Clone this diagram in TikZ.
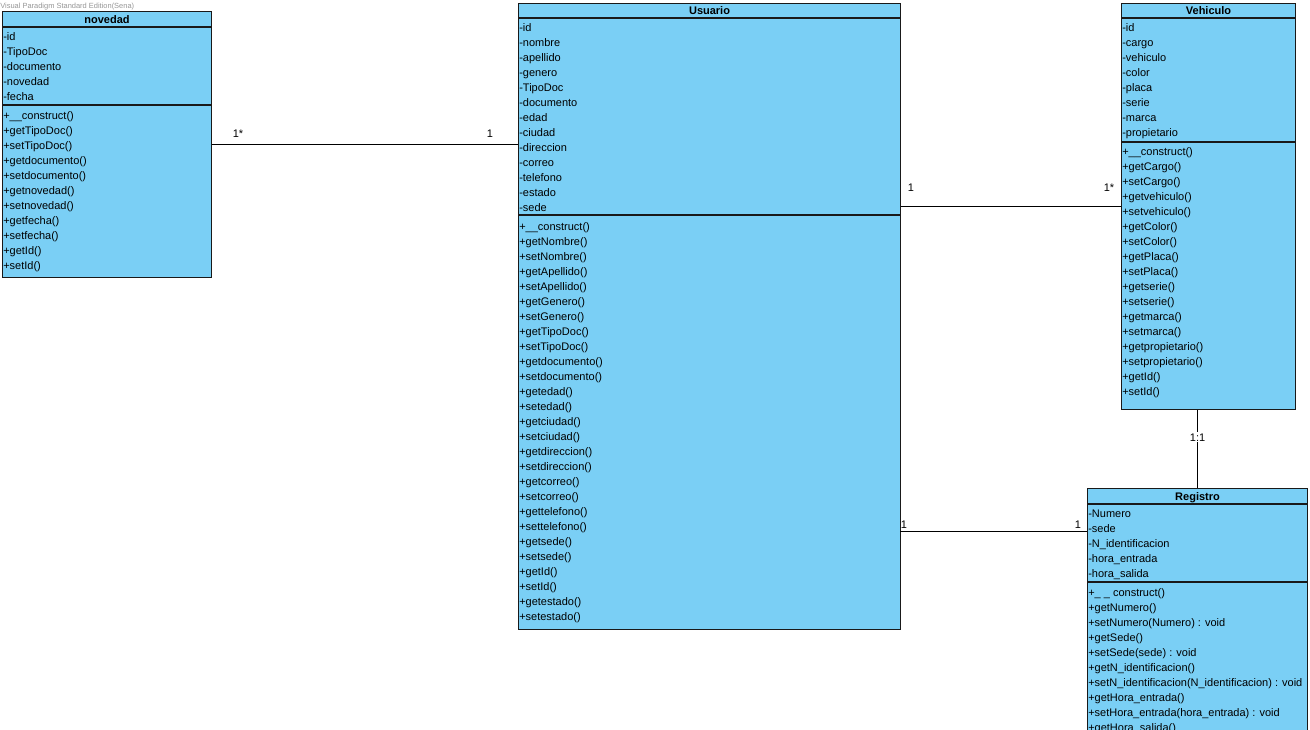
\documentclass[tikz,border=0pt]{standalone}
\usepackage{fontspec}
\setmainfont{Liberation Sans}
\usetikzlibrary{positioning}
\definecolor{vpblue}{RGB}{122,207,245}
\definecolor{vpline}{RGB}{25,25,25}
\definecolor{vpgray}{RGB}{150,150,150}

\begin{document}
\begin{tikzpicture}[
    x=0.75pt, y=-0.75pt,
    font=\fontsize{8.25}{10}\selectfont,
    cls/.style={draw=vpline, fill=vpblue, line width=0.8pt, anchor=north west, inner sep=0pt},
    ttl/.style={font=\fontsize{8.25}{10}\selectfont\bfseries, inner sep=0pt, anchor=base},
    row/.style={anchor=base west, inner sep=0pt},
    mult/.style={inner sep=0pt, anchor=base},
    sep/.style={draw=vpline, line width=0.8pt},
    assoc/.style={draw=black, line width=0.75pt}
]
\useasboundingbox (0,0) rectangle (1310,729);
\clip (0,0) rectangle (1310,729);

\node[row, text=vpgray, font=\fontsize{5.6}{6}\selectfont] (wm) at (0,8) {Visual Paradigm Standard Edition(Sena)};

% clases
\node[cls, minimum width=156.75pt, minimum height=199.5pt] (nov) at (2,11) {};
\node[cls, minimum width=286.5pt, minimum height=469.5pt] (usu) at (518,3) {};
\node[cls, minimum width=130.5pt, minimum height=304.5pt] (veh) at (1121,3) {};
\node[cls, minimum width=165pt, minimum height=240pt] (reg) at (1087,488) {};

\node[ttl] (nov-t) at (nov.north |- 0,23) {novedad};
\node[ttl] (usu-t) at (usu.north |- 0,14) {Usuario};
\node[ttl] (veh-t) at (veh.north |- 0,14) {Vehiculo};
\node[ttl] (reg-t) at (reg.north |- 0,500) {Registro};

\draw[sep] (nov.west |- 0,27) -- (nov.east |- 0,27);
\draw[sep] (nov.west |- 0,105) -- (nov.east |- 0,105);
\draw[sep] (usu.west |- 0,18) -- (usu.east |- 0,18);
\draw[sep] (usu.west |- 0,215) -- (usu.east |- 0,215);
\draw[sep] (veh.west |- 0,18) -- (veh.east |- 0,18);
\draw[sep] (veh.west |- 0,142) -- (veh.east |- 0,142);
\draw[sep] (reg.west |- 0,504) -- (reg.east |- 0,504);
\draw[sep] (reg.west |- 0,582) -- (reg.east |- 0,582);

% novedad
\foreach \t [count=\i] in {-id,-TipoDoc,-documento,-novedad,-fecha}
  \node[row] (nov-a\i) at (3,{25+15*\i}) {\t};
\foreach \t [count=\i] in {+\_\_construct(),+getTipoDoc(),+setTipoDoc(),+getdocumento(),+setdocumento(),+getnovedad(),+setnovedad(),+getfecha(),+setfecha(),+getId(),+setId()}
  \node[row] (nov-m\i) at (3,{104+15*\i}) {\t};

% Usuario
\foreach \t [count=\i] in {-id,-nombre,-apellido,-genero,-TipoDoc,-documento,-edad,-ciudad,-direccion,-correo,-telefono,-estado,-sede}
  \node[row] (usu-a\i) at (519,{16+15*\i}) {\t};
\foreach \t [count=\i] in {+\_\_construct(),+getNombre(),+setNombre(),+getApellido(),+setApellido(),+getGenero(),+setGenero(),+getTipoDoc(),+setTipoDoc(),+getdocumento(),+setdocumento(),+getedad(),+setedad(),+getciudad(),+setciudad(),+getdireccion(),+setdireccion(),+getcorreo(),+setcorreo(),+gettelefono(),+settelefono(),+getsede(),+setsede(),+getId(),+setId(),+getestado(),+setestado()}
  \node[row] (usu-m\i) at (519,{215+15*\i}) {\t};

% Vehiculo
\foreach \t [count=\i] in {-id,-cargo,-vehiculo,-color,-placa,-serie,-marca,-propietario}
  \node[row] (veh-a\i) at (1122,{16+15*\i}) {\t};
\foreach \t [count=\i] in {+\_\_construct(),+getCargo(),+setCargo(),+getvehiculo(),+setvehiculo(),+getColor(),+setColor(),+getPlaca(),+setPlaca(),+getserie(),+setserie(),+getmarca(),+setmarca(),+getpropietario(),+setpropietario(),+getId(),+setId()}
  \node[row] (veh-m\i) at (1122,{140+15*\i}) {\t};

% Registro
\foreach \t [count=\i] in {-Numero,-sede,-N\_identificacion,-hora\_entrada,-hora\_salida}
  \node[row] (reg-a\i) at (1088,{502+15*\i}) {\t};
\foreach \t [count=\i] in {+\_ \_ construct(),+getNumero(),+setNumero(Numero) : void,+getSede(),+setSede(sede) : void,+getN\_identificacion(),+setN\_identificacion(N\_identificacion) : void,+getHora\_entrada(),+setHora\_entrada(hora\_entrada) : void,+getHora\_salida()}
  \node[row] (reg-m\i) at (1088,{581+15*\i}) {\t};

% asociaciones
\coordinate (ureg) at (900,531);
\draw[assoc] (nov.east) -- (usu.west |- nov.east);
\draw[assoc] (usu.east |- veh.west) -- (veh.west);
\draw[assoc] (ureg) -- (reg.west |- ureg);
\draw[assoc] (veh.south -| reg.north) -- node[pos=0.35, fill=white, inner sep=1pt] (vr) {1:1} (reg.north);

\node[mult] (m1) at (238,137) {1*};
\node[mult] (m2) at (490,137) {1};
\node[mult] (m3) at (911,191) {1};
\node[mult] (m4) at (1109,191) {1*};
\node[mult] (m5) at (904,528) {1};
\node[mult] (m6) at (1078,528) {1};
\end{tikzpicture}
\end{document}
